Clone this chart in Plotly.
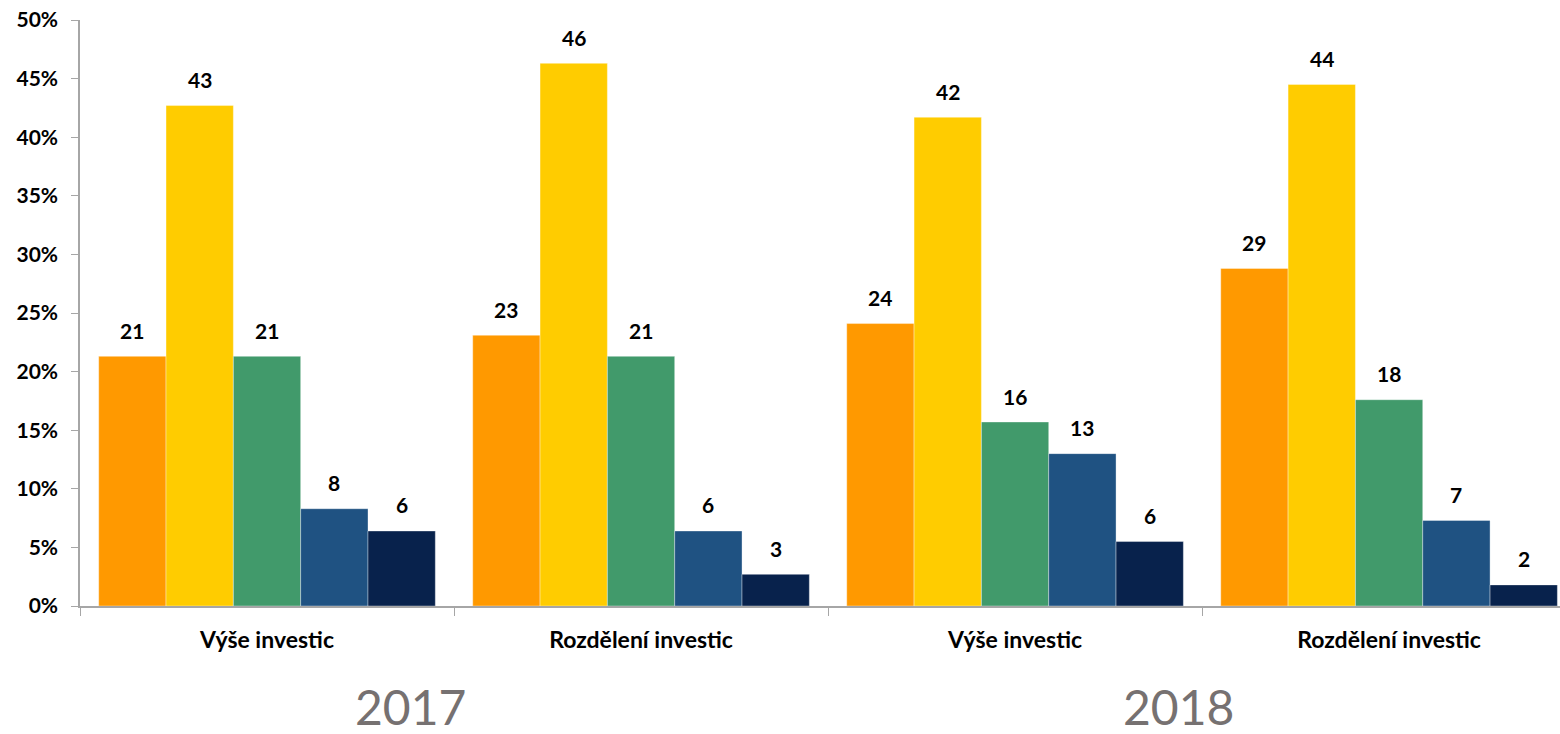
import plotly.graph_objects as go

categories = ["Výše investic", "Rozdělení investic", "Výše investic ", "Rozdělení investic "]
category_labels = ["Výše investic", "Rozdělení investic", "Výše investic", "Rozdělení investic"]
years = ["2017", "2018"]
series_names = ["Řada 1", "Řada 2", "Řada 3", "Řada 4", "Řada 5"]
series_values = [
    [21.3, 23.1, 24.1, 28.8],
    [42.7, 46.3, 41.7, 44.5],
    [21.3, 21.3, 15.7, 17.6],
    [8.3, 6.4, 13.0, 7.3],
    [6.4, 2.7, 5.5, 1.8],
]
series_labels = [
    [21, 23, 24, 29],
    [43, 46, 42, 44],
    [21, 21, 16, 18],
    [8, 6, 13, 7],
    [6, 3, 6, 2],
]
colors = ["#FF9900", "#FFCC00", "#419A6B", "#1F5282", "#08224C"]

FONT = "Lato"
BARGAP = 0.1
n = len(series_values)

fig = go.Figure()
for name, vals, col in zip(series_names, series_values, colors):
    fig.add_trace(go.Bar(
        x=categories, y=vals, name=name,
        marker=dict(color=col, line=dict(width=0.6, color="rgba(255,255,255,0.6)")),
        hoverinfo="y",
    ))

w = (1 - BARGAP) / n
for i, (vals, labs) in enumerate(zip(series_values, series_labels)):
    for j, (v, lab) in enumerate(zip(vals, labs)):
        fig.add_annotation(
            x=j + (i - (n - 1) / 2) * w, y=v, xref="x", yref="y",
            text=f"<b>{lab}</b>", showarrow=False, yshift=26,
            font=dict(family=FONT, size=21, color="#000000"),
        )

year_x = [0.2236, 0.7419]
for yr, xp in zip(years, year_x):
    fig.add_annotation(
        x=xp, y=-0.172, xref="paper", yref="paper", text=yr, showarrow=False,
        yanchor="middle", xanchor="center",
        font=dict(family=FONT, size=48, color="#767171"),
    )

fig.update_layout(
    width=1560, height=734,
    margin=dict(l=80, r=0, t=20, b=128),
    plot_bgcolor="white", paper_bgcolor="white",
    barmode="group", bargap=BARGAP, bargroupgap=0,
    showlegend=False,
    font=dict(family=FONT),
)
fig.update_xaxes(
    type="category", range=[-0.5, 3.457], automargin=False,
    tickvals=categories, ticktext=[f"<b>{c}</b>" for c in category_labels],
    tickson="boundaries", ticks="outside", ticklen=8, tickcolor="#A6A6A6",
    showline=True, linecolor="#A6A6A6", linewidth=1.5,
    tickfont=dict(family=FONT, size=23, color="#000000"),
    ticklabelstandoff=13, showgrid=False,
)
fig.update_yaxes(
    range=[0, 50], dtick=5, ticksuffix="%", automargin=False,
    ticks="outside", ticklen=7, tickcolor="#A6A6A6",
    showline=True, linecolor="#A6A6A6", linewidth=1.5,
    showgrid=False, zeroline=False,
    tickfont=dict(family=FONT, size=21, color="#000000"),
    tickprefix="<b>", ticklabelstandoff=9, tickformat="d",
)

fig.write_html(
    "out.html",
    config={"displayModeBar": False},
    post_script="document.body.style.margin='0';document.body.style.overflow='hidden';",
)
